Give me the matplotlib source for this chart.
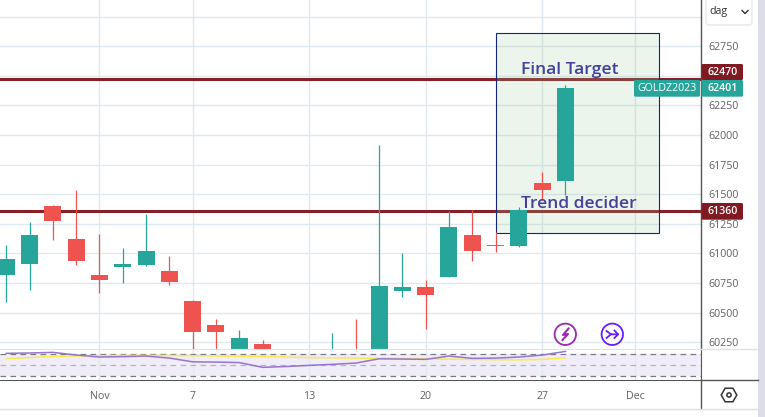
import matplotlib
matplotlib.use("Agg")
import matplotlib.pyplot as plt
from matplotlib.patches import Rectangle, Circle, RegularPolygon, FancyBboxPatch

W, H = 765, 417
FONT = ["Open Sans", "DejaVu Sans"]
plt.rcParams["font.family"] = FONT

opens  = [60818,60911,61401,61122,60818,60886,60903,60852,60599,60396,60143,60236,60170,60120,60120,60180,60080,60683,60717,60802,61156,61072,61063,61595,61612]
closes = [60953,61156,61274,60937,60776,60911,61021,60759,60337,60337,60286,60168,60130,60170,60170,60130,60725,60717,60649,61224,61021,61063,61367,61536,62401]
highs  = [61072,61266,61410,61536,61165,61046,61334,60979,60607,60447,60354,60269,60180,60175,60328,60447,61916,61004,60776,61359,61367,61181,61393,61688,62423]
lows   = [60590,60692,61114,60903,60666,60751,60894,60734,60143,60168,60134,60134,60100,60100,60100,60100,60050,60633,60362,60802,60937,61013,61055,61452,61494]
rsi    = [71.9,72.5,73.7,68.7,65.0,65.7,66.8,63.0,56.0,55.5,54.6,45.7,47.2,49.4,51.3,53.7,61.7,61.2,60.6,66.8,62.5,63.0,64.9,68.6,75.5]
rsi_ma = [62.0,64.0,66.0,67.0,67.5,68.0,68.0,68.0,67.5,67.0,66.5,66.0,65.0,64.0,63.5,63.0,62.5,62.0,61.5,61.0,60.5,60.0,59.8,60.5,63.5]
levels = [62470, 61360]
level_names = ["Final Target", "Trend decider"]
name_x = [22.09, 22.09]
name_y = [62516, 61380]
price_ticks = [60250,60500,60750,61000,61250,61500,61750,62000,62250,62500,62750,63000]
price_labels = ["60250","60500","60750","61000","61250","61500","61750","62000","62250","","62750",""]
date_pos = [4, 8, 13, 18, 23, 27]
date_labels = ["Nov", "7", "13", "20", "27", "Dec"]
box_x = [21, 28]
box_y = [62860, 61170]
last_price = 62401
symbol = "GOLDZ2023"

GREEN, RED, LEVEL = "#26a69a", "#ef5350", "#862028"
GRID, AX, TXT = "#e0e9ef", "#555555", "#606060"
TICK_SIZE = 7.7

fig = plt.figure(figsize=(W/100, H/100), dpi=100, facecolor="white")
def axpx(x0, y0, x1, y1, **kw):
    return fig.add_axes([x0/W, 1-y1/H, (x1-x0)/W, (y1-y0)/H], **kw)

ax = axpx(0, 0, 701.3, 349)
ind = axpx(0, 349, 701.3, 380, sharex=ax)
ax.set_xlim(-0.27, 29.83)
ax.set_ylim(60193, 63141)
ind.set_ylim(22, 80)

# main panel
ax.set_yticks(price_ticks, price_labels)
ax.yaxis.tick_right()
ax.tick_params(axis="y", length=0, pad=5, labelsize=TICK_SIZE, labelcolor=TXT)
ax.tick_params(axis="x", length=0, labelbottom=False)
ax.set_xticks(date_pos)
ax.grid(True, color=GRID, lw=1)
ax.set_axisbelow(True)
for s in ax.spines.values():
    s.set_visible(False)
ax.spines["right"].set_visible(True)
ax.spines["right"].set_color(AX)
ax.spines["right"].set_linewidth(1)

for y in levels:
    ax.axhline(y, color=LEVEL, lw=2.2, zorder=2)
ax.add_patch(Rectangle((box_x[0], box_y[1]), box_x[1]-box_x[0], box_y[0]-box_y[1],
                       fc="#9bcda0", ec="none", alpha=0.2, zorder=3))
ax.add_patch(Rectangle((box_x[0], box_y[1]), box_x[1]-box_x[0], box_y[0]-box_y[1],
                       fc="none", ec="#14267a", lw=0.8, zorder=3.1))

for i, (o, c, h, l) in enumerate(zip(opens, closes, highs, lows)):
    col = GREEN if c >= o else RED
    ax.vlines(i, l, h, color=col, lw=0.9, zorder=4)
    ax.bar(i, abs(c-o), bottom=min(o, c), width=0.73, color=col, lw=0, zorder=4)

for name, nx, ny in zip(level_names, name_x, name_y):
    ax.text(nx, ny, name, color="#45409a", fontsize=12.6, ha="left", va="baseline",
            fontweight="semibold", zorder=5)

# indicator panel
ind.axhspan(30, 70, color="#f0ecf8", lw=0, zorder=0)
ind.set_xticks(date_pos, date_labels)
ind.set_yticks([])
ind.grid(True, axis="x", color=GRID, lw=1, zorder=0.5)
ind.set_axisbelow(True)
ind.tick_params(axis="x", length=0, pad=8, labelsize=TICK_SIZE, labelcolor=TXT)
ind.axhline(70, color="#787b86", lw=0.9, ls=(0, (4.5, 3.5)), zorder=1)
ind.axhline(50, color="#b2b5be", lw=0.9, ls=(0, (4.5, 3.5)), zorder=1)
ind.axhline(30, color="#787b86", lw=0.9, ls=(0, (4.5, 3.5)), zorder=1)
days = list(range(len(rsi)))
ind.plot(days, rsi_ma, color="#fbe94c", lw=1.1, zorder=2)
ind.plot(days, rsi, color="#9575cd", lw=1.1, zorder=3)
for k, s in ind.spines.items():
    s.set_visible(False)
ind.spines["top"].set_visible(True)
ind.spines["top"].set_color("#e2e2e2")
ind.spines["bottom"].set_visible(True)
ind.spines["bottom"].set_color(AX)
ind.spines["right"].set_visible(True)
ind.spines["right"].set_color(AX)

# chrome in pixel coordinates
ov = fig.add_axes([0, 0, 1, 1], facecolor="none")
ov.set_xlim(0, W); ov.set_ylim(H, 0); ov.axis("off")
ov.add_patch(Rectangle((758, 0), 7, H, fc="#dddde9", ec="none"))
ov.plot([701.3, 758], [349, 349], color="#e2e2e2", lw=1)
ov.plot([701.3, 758], [380, 380], color=AX, lw=1)
ov.plot([701.3, 701.3], [380, 408], color=AX, lw=1)
ov.plot([0, 758], [408.5, 408.5], color="#dfdfe8", lw=1)

# interval widget
ov.add_patch(FancyBboxPatch((706, -6), 46, 31, boxstyle="round,pad=0,rounding_size=3",
                            fc="white", ec="#e8e8ee", lw=1))
ov.text(709.5, 11.5, "dag", fontsize=TICK_SIZE, color="#303030", va="center", ha="left")
ov.plot([742, 745, 748], [10.5, 13.5, 10.5], color="#303030", lw=1)

# price labels
def tag(x0, x1, y0, y1, fc, s, weight="semibold"):
    ov.add_patch(FancyBboxPatch((x0, y0), x1-x0, y1-y0, boxstyle="round,pad=0,rounding_size=1.5",
                                fc=fc, ec="none"))
    ov.text((x0+x1)/2, (y0+y1)/2, s, color="white", fontsize=TICK_SIZE,
            ha="center", va="center", fontweight=weight)
tag(701.5, 743, 64, 80, "#7f1a22", str(levels[0]))
tag(701.5, 743, 203, 219.7, "#7f1a22", str(levels[1]))
tag(701.5, 743, 80, 96.7, GREEN, str(last_price))
tag(634, 700, 80, 96.7, GREEN, symbol, weight="normal")

# event icons
for cx, col in ((565.3, "#9c27b0"), (612.3, "#651fff")):
    ov.add_patch(Circle((cx, 334.3), 10.7, fc="white", ec=col, lw=1.3))
ov.plot([568.5, 563, 568, 562.5], [328.5, 335, 334, 340], color="#9c27b0", lw=1.5)
ov.plot([606.5, 611, 618], [331, 334.3, 334.3], color="#651fff", lw=1.3)
ov.plot([606.5, 611], [338, 334.3], color="#651fff", lw=1.3)
ov.plot([614.5, 618, 614.5], [330.5, 334.3, 338], color="#651fff", lw=1.3)

# settings hexagon
ov.add_patch(RegularPolygon((729, 395), 6, radius=7.8, orientation=3.14159/2,
                            fc="white", ec="#333333", lw=1.1))
ov.add_patch(Circle((729, 395), 2.1, fc="white", ec="#333333", lw=1.1))

fig.savefig("out.png", dpi=100, facecolor="white")
